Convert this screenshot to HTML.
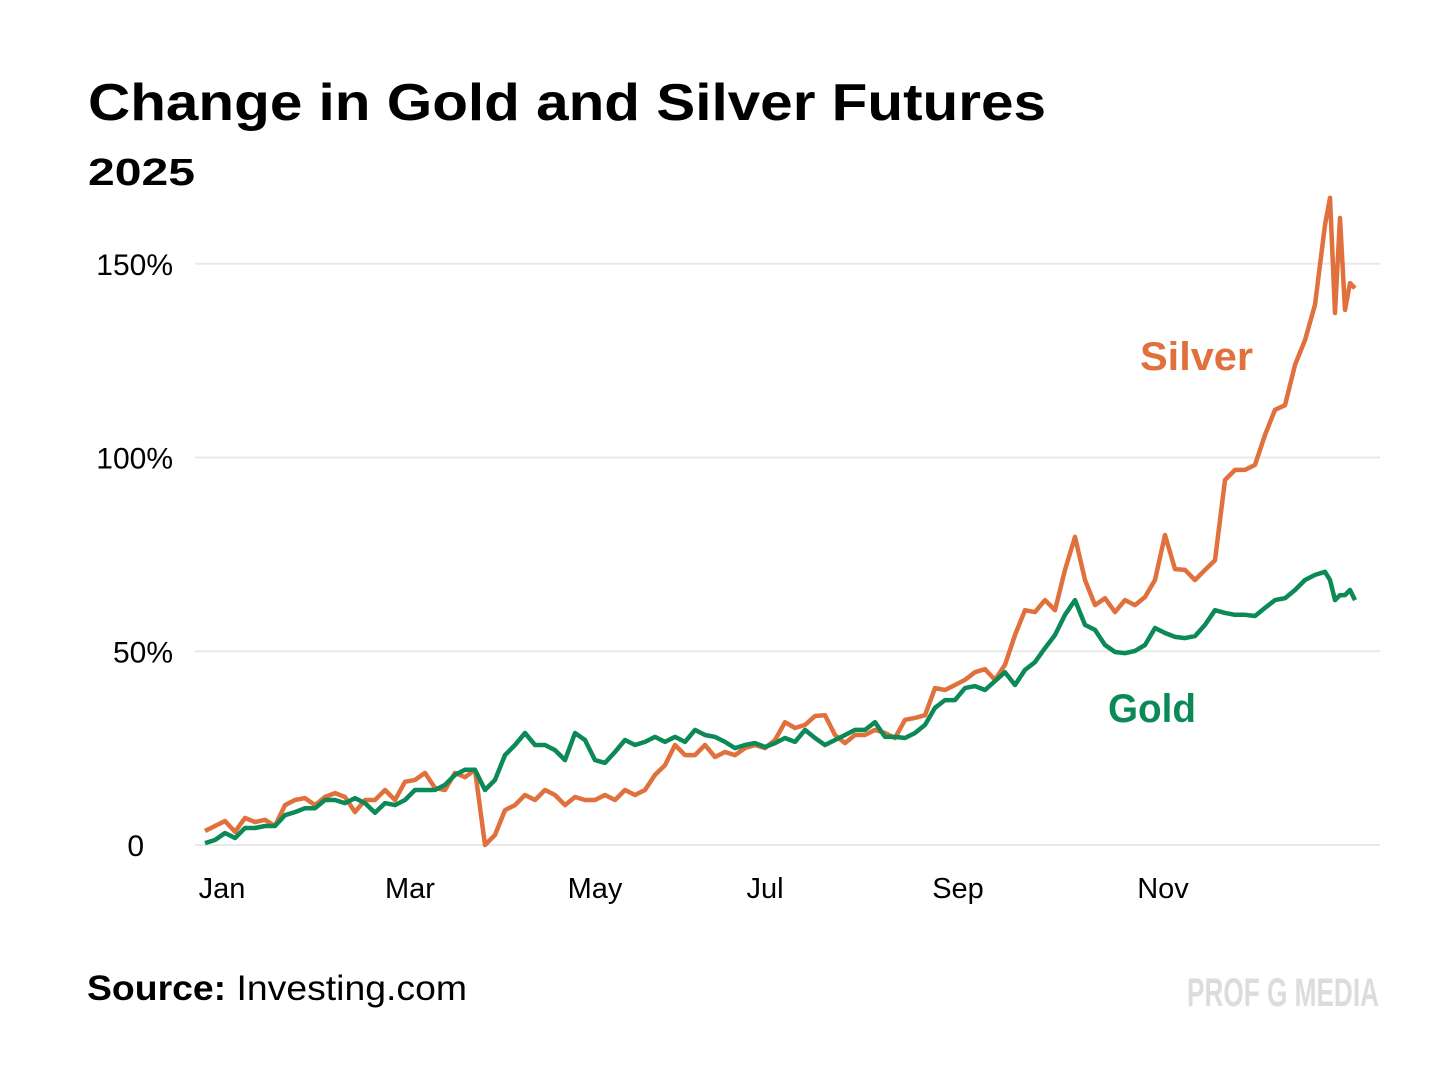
<!DOCTYPE html>
<html><head><meta charset="utf-8"><style>
html,body{margin:0;padding:0;background:#fff;}
svg{display:block;font-family:"Liberation Sans",sans-serif;}
</style></head><body>
<svg id="chart" width="1456" height="1081" viewBox="0 0 1456 1081">
<text x="88" y="120" font-size="52" font-weight="bold" fill="#000" textLength="958" lengthAdjust="spacingAndGlyphs">Change in Gold and Silver Futures</text>
<text x="88" y="185" font-size="38" font-weight="bold" fill="#000" textLength="107" lengthAdjust="spacingAndGlyphs">2025</text>
<g id="grid"></g>
<g id="xticks"></g>
<g id="series"></g>
<text x="1140" y="370" font-size="40" font-weight="bold" fill="#e0703c" textLength="113" lengthAdjust="spacingAndGlyphs">Silver</text>
<text x="1108" y="722" font-size="40" font-weight="bold" fill="#0b8a57" textLength="88" lengthAdjust="spacingAndGlyphs">Gold</text>
<text x="87" y="1000" font-size="35" fill="#000" textLength="380" lengthAdjust="spacingAndGlyphs"><tspan font-weight="bold">Source:</tspan> Investing.com</text>
<text x="1187" y="1006" font-size="40" font-weight="bold" fill="#dcdcdc" textLength="192" lengthAdjust="spacingAndGlyphs">PROF G MEDIA</text>
</svg>
<script>
const yTicks = [0, 50, 100, 150];
const yTickLabels = ["0", "50%", "100%", "150%"];
const xTickDays = [3.4, 41, 78, 112, 150.6, 191.6];
const xTickLabels = ["Jan", "Mar", "May", "Jul", "Sep", "Nov"];
const days = [0,2,4,6,8,10,12,14,16,18,20,22,24,26,28,30,32,34,36,38,40,42,44,46,48,50,52,54,56,58,60,62,64,66,68,70,72,74,76,78,80,82,84,86,88,90,92,94,96,98,100,102,104,106,108,110,112,114,116,118,120,122,124,126,128,130,132,134,136,138,140,142,144,146,148,150,152,154,156,158,160,162,164,166,168,170,172,174,176,178,180,182,184,186,188,190,192,194,196,198,200,202,204,206,208,210,212,214,216,218,220,222,224,225,226,227,228,229,230];
const silver = [3.6,4.9,6.2,3.4,7.0,5.9,6.5,4.9,10.3,11.6,
12.1,10.3,12.4,13.4,12.4,8.5,11.6,11.6,14.2,11.6,
16.3,16.8,18.6,14.7,14.2,18.6,17.5,19.4,0,2.6,
9.0,10.3,12.9,11.6,14.2,12.9,10.3,12.4,11.6,11.6,
12.9,11.6,14.2,12.9,14.2,18.1,20.6,25.8,23.2,23.2,
25.8,22.7,24.0,23.2,25.0,25.8,25.0,27.1,31.7,30.2,
31.0,33.3,33.5,28.4,26.3,28.4,28.4,29.7,28.9,27.6,
32.3,32.8,33.5,40.5,40.0,41.3,42.6,44.6,45.4,42.6,
46.5,54.2,60.6,60.1,63.2,60.6,71.0,79.5,68.4,61.9,
63.7,60.1,63.2,61.9,64.0,68.4,80.0,71.2,71.0,68.4,
71.0,73.5,94.2,96.8,96.8,98.1,105.8,112.3,113.5,123.9,
130.3,139.4,160.0,167.0,137.3,161.8,138.1,145.0,143.7];
const gold = [0.5,1.3,3.1,1.8,4.4,4.4,4.9,4.9,7.7,8.5,
9.5,9.5,11.6,11.6,10.8,12.1,10.8,8.3,10.8,10.3,
11.6,14.2,14.2,14.2,15.5,18.1,19.4,19.4,14.2,16.8,
23.2,25.8,28.9,25.8,25.8,24.5,21.9,28.9,27.1,21.9,
21.2,24.0,27.1,25.8,26.6,27.9,26.6,27.9,26.6,29.7,
28.4,27.9,26.6,25.0,25.8,26.3,25.3,26.3,27.6,26.6,
29.7,27.6,25.8,27.1,28.4,29.7,29.7,31.7,27.9,27.9,
27.6,28.9,31.0,35.4,37.4,37.4,40.5,41.0,40.0,42.3,
44.6,41.3,45.2,47.2,50.8,54.2,59.4,63.2,56.8,55.5,
51.6,49.8,49.5,50.1,51.6,56.0,54.7,53.7,53.4,53.9,
56.8,60.6,59.9,59.4,59.4,59.1,61.2,63.2,63.7,65.8,
68.4,69.7,70.5,68.4,63.2,64.5,64.5,65.8,63.2];

const NS = "http://www.w3.org/2000/svg";
const X0 = 205, X1 = 1355, D0 = 0, D1 = 230;
const Y0 = 845, PXPER = 3.875;
function xScale(d){ return X0 + (d - D0) / (D1 - D0) * (X1 - X0); }
function yScale(v){ return Y0 - v * PXPER; }

const grid = document.getElementById('grid');
yTicks.forEach((t, i) => {
  const ln = document.createElementNS(NS, 'line');
  ln.setAttribute('x1', 195); ln.setAttribute('x2', 1380);
  ln.setAttribute('y1', yScale(t)); ln.setAttribute('y2', yScale(t));
  ln.setAttribute('stroke', '#e8e8e8'); ln.setAttribute('stroke-width', 2);
  
  
  grid.appendChild(ln);
  const tx = document.createElementNS(NS, 'text');
  tx.setAttribute('x', 173); tx.setAttribute('y', yScale(t) + 11);
  tx.setAttribute('text-anchor', 'end'); tx.setAttribute('font-size', '30');
  tx.textContent = yTickLabels[i];
  
  
  if (t === 0) tx.setAttribute('x', 144);
  grid.appendChild(tx);
});
const xt = document.getElementById('xticks');
xTickDays.forEach((d, i) => {
  const tx = document.createElementNS(NS, 'text');
  tx.setAttribute('x', xScale(d)); tx.setAttribute('y', 898);
  tx.setAttribute('text-anchor', 'middle'); tx.setAttribute('font-size', '29');
  tx.textContent = xTickLabels[i];
  
  
  xt.appendChild(tx);
});
function drawLine(vals, color, name){
  const n = Math.min(vals.length, days.length);
  let d = '';
  for (let i = 0; i < n; i++) d += (i ? 'L' : 'M') + xScale(days[i]).toFixed(1) + ',' + yScale(vals[i]).toFixed(1);
  const p = document.createElementNS(NS, 'path');
  p.setAttribute('d', d); p.setAttribute('fill', 'none');
  p.setAttribute('stroke', color); p.setAttribute('stroke-width', 4.5);
  p.setAttribute('stroke-linejoin', 'round');
  
  
  document.getElementById('series').appendChild(p);
}
drawLine(silver, '#e0703c', 'silver-line');
drawLine(gold, '#0b8a57', 'gold-line');
</script>
</body></html>
